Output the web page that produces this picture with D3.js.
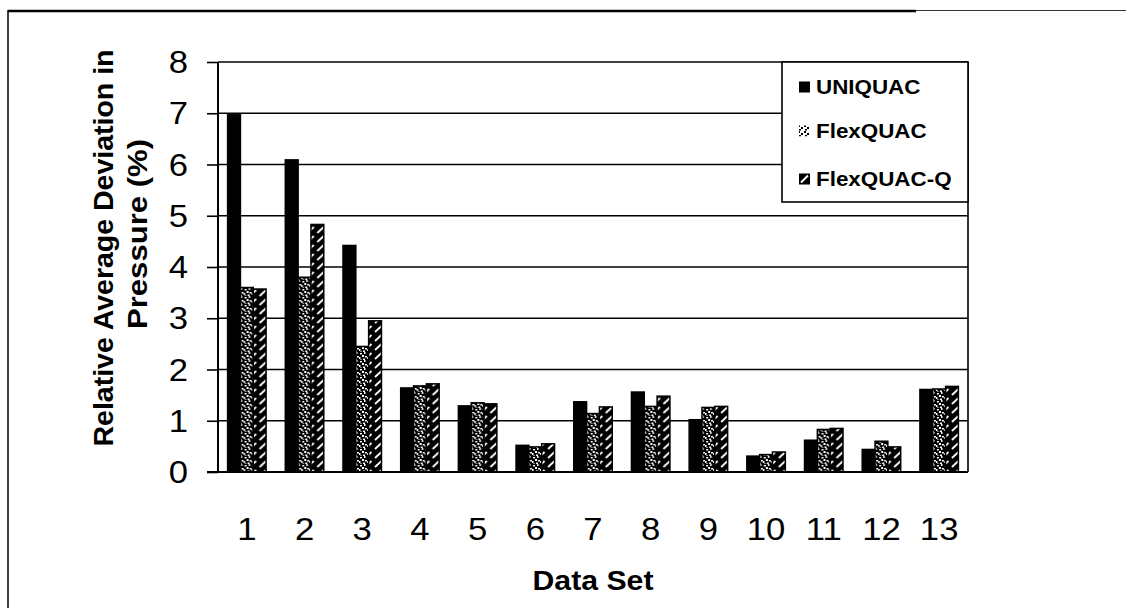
<!DOCTYPE html>
<html>
<head>
<meta charset="utf-8">
<script src="https://cdn.jsdelivr.net/npm/d3@7"></script>
<style>
  html, body { margin: 0; padding: 0; background: #fff; }
  svg { display: block; }
  text { font-family: "Liberation Sans", Arial, sans-serif; fill: #000; }
</style>
</head>
<body>
<svg id="chart" width="1126" height="608"></svg>
<script>
// Relative average deviation in pressure (%) per data set
const categories = ["1","2","3","4","5","6","7","8","9","10","11","12","13"];
const seriesNames = ["UNIQUAC", "FlexQUAC", "FlexQUAC-Q"];
const uniquac    = [6.97, 6.09, 4.42, 1.64, 1.29, 0.52, 1.37, 1.56, 1.02, 0.31, 0.62, 0.44, 1.61];
const flexquac   = [3.60, 3.80, 2.45, 1.68, 1.35, 0.49, 1.14, 1.28, 1.26, 0.34, 0.83, 0.60, 1.62];
const flexquacQ  = [3.57, 4.83, 2.95, 1.72, 1.33, 0.55, 1.27, 1.48, 1.28, 0.39, 0.85, 0.49, 1.67];
const yTicks = [0, 1, 2, 3, 4, 5, 6, 7, 8];
const xTitle = "Data Set";
const yTitleLines = ["Relative Average Deviation in", "Pressure (%)"];

const seriesValues = [uniquac, flexquac, flexquacQ];
const table = categories.map((c, i) => ({
  cat: c,
  values: seriesNames.map((s, k) => ({ series: s, value: seriesValues[k][i] }))
}));

const svg = d3.select("#chart");
const SX = 1.12; // horizontal stretch of lettering

// plot box
const plot = { left: 218, right: 968, top: 62, bottom: 472 };

const x0 = d3.scaleBand().domain(categories)
  .range([plot.left, plot.right]).paddingInner(0.333).paddingOuter(0.1665);
const x1 = d3.scaleBand().domain(seriesNames).range([0, x0.bandwidth()]);
const y = d3.scaleLinear().domain([0, 8]).range([plot.bottom, plot.top]);

// fill patterns
const defs = svg.append("defs");
const dots = defs.append("pattern").attr("id", "speckle")
  .attr("patternUnits", "userSpaceOnUse").attr("width", 8).attr("height", 8);
dots.append("rect").attr("width", 8).attr("height", 8).attr("fill", "#000");
[[1,1,2,1.5],[5,0,1.5,2],[3,3,2,2],[0,5,1.5,2],[6,4,2,1.5],[4,6.5,2,1.5],[1.5,7,1,1]]
  .forEach(d => dots.append("rect").attr("x", d[0]).attr("y", d[1])
    .attr("width", d[2]).attr("height", d[3]).attr("fill", "#fff"));

const stripes = defs.append("pattern").attr("id", "stripe")
  .attr("patternUnits", "userSpaceOnUse").attr("width", 10).attr("height", 9);
stripes.append("rect").attr("width", 10).attr("height", 9).attr("fill", "#000");
stripes.append("line").attr("x1", 2).attr("y1", 8).attr("x2", 8.5).attr("y2", 2)
  .attr("stroke", "#fff").attr("stroke-width", 1.8);

const dotsInv = defs.append("pattern").attr("id", "speckleInv")
  .attr("patternUnits", "userSpaceOnUse").attr("width", 6).attr("height", 6);
dotsInv.append("rect").attr("width", 6).attr("height", 6).attr("fill", "#fff");
[[0,0,2,2],[3,2,2,2],[1,4,2,1.5]]
  .forEach(d => dotsInv.append("rect").attr("x", d[0]).attr("y", d[1])
    .attr("width", d[2]).attr("height", d[3]).attr("fill", "#000"));

const fills = { "UNIQUAC": "#000", "FlexQUAC": "url(#speckle)", "FlexQUAC-Q": "url(#stripe)" };

// outer frame
svg.append("line").attr("x1", 8).attr("x2", 916).attr("y1", 11).attr("y2", 11)
  .attr("stroke", "#000").attr("stroke-width", 2.5);
svg.append("line").attr("x1", 916).attr("x2", 1126).attr("y1", 10.5).attr("y2", 10.5)
  .attr("stroke", "#333").attr("stroke-width", 1.2);
svg.append("line").attr("x1", 8).attr("x2", 8).attr("y1", 10).attr("y2", 608)
  .attr("stroke", "#000").attr("stroke-width", 1.5);

// gridlines
svg.append("g").selectAll("line").data(yTicks.filter(t => t > 0)).join("line")
  .attr("x1", plot.left).attr("x2", plot.right)
  .attr("y1", d => y(d)).attr("y2", d => y(d))
  .attr("stroke", "#000").attr("stroke-width", 1.6);

// right border of plot
svg.append("line").attr("x1", plot.right).attr("x2", plot.right)
  .attr("y1", plot.top).attr("y2", plot.bottom)
  .attr("stroke", "#000").attr("stroke-width", 1.6);

// bars
const groups = svg.append("g").selectAll("g").data(table).join("g")
  .attr("transform", d => `translate(${x0(d.cat)},0)`);
groups.selectAll("rect").data(d => d.values).join("rect")
  .attr("x", d => x1(d.series))
  .attr("y", d => y(d.value))
  .attr("width", x1.bandwidth())
  .attr("height", d => y(0) - y(d.value))
  .attr("fill", d => fills[d.series])
  .attr("stroke", "#000").attr("stroke-width", 1.5);

// y axis
const yAxis = svg.append("g").attr("transform", `translate(${plot.left},0)`)
  .call(d3.axisLeft(y).tickValues(yTicks).tickSize(11).tickPadding(0).tickFormat(() => ""));
yAxis.select(".domain").attr("stroke-width", 2).attr("d", `M0,${plot.top}V${plot.bottom}`);
yAxis.selectAll(".tick line").attr("stroke-width", 1.6);
svg.append("g").selectAll("text").data(yTicks).join("text")
  .attr("transform", d => `translate(188,${y(d) + 11}) scale(${SX},1)`)
  .attr("text-anchor", "end")
  .style("font-size", "31px")
  .text(d => d);

// x axis
const xAxis = svg.append("g").attr("transform", `translate(0,${plot.bottom})`)
  .call(d3.axisBottom(x0).tickSize(0).tickFormat(() => ""));
xAxis.select(".domain").attr("stroke-width", 2.2).attr("d", `M${plot.left - 11},0H${plot.right}`);
svg.append("g").selectAll("text").data(categories).join("text")
  .attr("transform", d => `translate(${x0(d) + x0.bandwidth() / 2},540) scale(${SX},1)`)
  .attr("text-anchor", "middle")
  .style("font-size", "31px")
  .text(d => d);

// axis titles
svg.append("text")
  .attr("transform", `translate(593,590) scale(${SX},1)`)
  .attr("text-anchor", "middle")
  .style("font-size", "27px").style("font-weight", "bold")
  .text(xTitle);
svg.append("text")
  .attr("transform", "translate(113,248) rotate(-90)")
  .attr("text-anchor", "middle")
  .style("font-size", "28.5px").style("font-weight", "bold")
  .text(yTitleLines[0]);
svg.append("text")
  .attr("transform", "translate(147,234) rotate(-90)")
  .attr("text-anchor", "middle")
  .attr("textLength", 190).attr("lengthAdjust", "spacingAndGlyphs")
  .style("font-size", "28.5px").style("font-weight", "bold")
  .text(yTitleLines[1]);

// legend
const legend = svg.append("g");
legend.append("rect").attr("x", 782).attr("y", 62).attr("width", 186).attr("height", 140)
  .attr("fill", "#fff").attr("stroke", "#000").attr("stroke-width", 1.6);
const legendY = [87, 131, 179];
const markerFill = { "UNIQUAC": "#000", "FlexQUAC": "url(#speckleInv)", "FlexQUAC-Q": "#000" };
const items = legend.selectAll("g.item").data(seriesNames).join("g").attr("class", "item")
  .attr("transform", (d, i) => `translate(0,${legendY[i]})`);
items.append("rect").attr("x", 799).attr("y", -5.5).attr("width", 11).attr("height", 11)
  .attr("fill", d => markerFill[d]);
items.filter(d => d === "FlexQUAC-Q").append("line")
  .attr("x1", 801).attr("y1", 3.5).attr("x2", 808).attr("y2", -3.5)
  .attr("stroke", "#fff").attr("stroke-width", 2);
items.append("text")
  .attr("transform", `translate(816,7) scale(${SX},1)`)
  .style("font-size", "20px").style("font-weight", "bold")
  .text(d => d);
</script>
</body>
</html>
